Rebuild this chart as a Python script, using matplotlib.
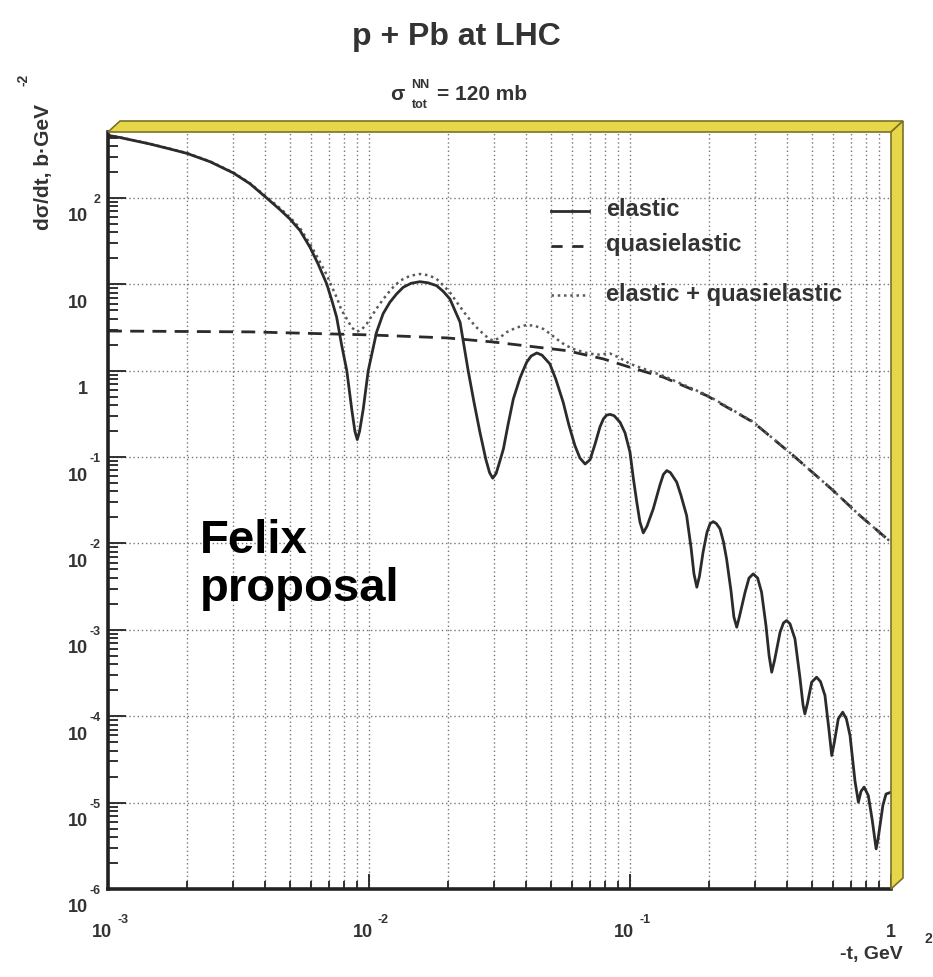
import numpy as np
import matplotlib
matplotlib.use("Agg")
import matplotlib.pyplot as plt
import matplotlib.transforms as mtransforms
from matplotlib.lines import Line2D
from matplotlib.patches import Polygon
from matplotlib.ticker import LogLocator, NullFormatter

plt.rcParams['font.family'] = ['Liberation Sans', 'DejaVu Sans']

# curves as log10(-t [GeV^2]) and log10(dsigma/dt [b/GeV^2])
# elastic
lt_el = [-3.000, -2.954, -2.839, -2.762, -2.698, -2.609, -2.520, -2.456, -2.392, -2.341,
         -2.303, -2.264, -2.226, -2.195, -2.162, -2.142, -2.124, -2.105, -2.085, -2.066,
         -2.054, -2.045, -2.036, -2.022, -2.003, -1.971, -1.946, -1.920, -1.894, -1.869,
         -1.839, -1.805, -1.774, -1.741, -1.716, -1.690, -1.651, -1.620, -1.598, -1.575,
         -1.552, -1.538, -1.526, -1.513, -1.500, -1.485, -1.467, -1.447, -1.421, -1.396,
         -1.379, -1.357, -1.337, -1.307, -1.284, -1.256, -1.234, -1.211, -1.192, -1.172,
         -1.153, -1.134, -1.115, -1.102, -1.090, -1.077, -1.061, -1.038, -1.019, -1.000,
         -0.987, -0.974, -0.962, -0.949, -0.935, -0.911, -0.885, -0.872, -0.859, -0.845,
         -0.821, -0.805, -0.783, -0.766, -0.755, -0.744, -0.734, -0.720, -0.705, -0.693,
         -0.681, -0.669, -0.655, -0.642, -0.630, -0.613, -0.602, -0.591, -0.581, -0.559,
         -0.544, -0.528, -0.511, -0.496, -0.479, -0.467, -0.457, -0.446, -0.425, -0.412,
         -0.400, -0.387, -0.368, -0.349, -0.337, -0.330, -0.320, -0.304, -0.285, -0.270,
         -0.253, -0.238, -0.227, -0.217, -0.202, -0.185, -0.171, -0.157, -0.138, -0.125,
         -0.115, -0.103, -0.087, -0.072, -0.057, -0.050, -0.042, -0.031, -0.019, 0.000]
ls_el = [2.725, 2.700, 2.625, 2.567, 2.517, 2.420, 2.290, 2.165, 2.000, 1.865,
         1.757, 1.622, 1.429, 1.236, 1.005, 0.811, 0.620, 0.300, 0.000, -0.450,
         -0.700, -0.797, -0.700, -0.442, 0.000, 0.446, 0.660, 0.793, 0.890, 0.966,
         1.012, 1.031, 1.018, 0.985, 0.920, 0.831, 0.561, 0.000, -0.360, -0.712,
         -1.030, -1.180, -1.244, -1.190, -1.060, -0.905, -0.620, -0.326, -0.080, 0.098,
         0.170, 0.206, 0.180, 0.079, -0.100, -0.365, -0.630, -0.867, -1.010, -1.080,
         -1.030, -0.850, -0.650, -0.558, -0.515, -0.505, -0.520, -0.597, -0.720, -0.944,
         -1.250, -1.522, -1.750, -1.877, -1.800, -1.600, -1.320, -1.200, -1.156, -1.180,
         -1.290, -1.440, -1.677, -2.050, -2.350, -2.506, -2.380, -2.100, -1.870, -1.770,
         -1.747, -1.770, -1.831, -1.980, -2.178, -2.550, -2.850, -2.969, -2.850, -2.563,
         -2.400, -2.352, -2.400, -2.563, -2.950, -3.300, -3.490, -3.350, -3.027, -2.920,
         -2.892, -2.930, -3.104, -3.550, -3.870, -3.972, -3.850, -3.606, -3.548, -3.600,
         -3.760, -4.150, -4.455, -4.300, -4.030, -3.953, -4.030, -4.223, -4.750, -4.995,
         -4.870, -4.820, -4.918, -5.200, -5.535, -5.430, -5.265, -5.030, -4.900, -4.880]

# quasielastic
lt_qe = [-3.000, -2.456, -2.000, -1.701, -1.525, -1.243, -1.102, -1.000,
         -0.872, -0.706, -0.528, -0.374, -0.221, -0.119, 0.000]
ls_qe = [0.460, 0.450, 0.415, 0.380, 0.333, 0.233, 0.137, 0.040,
         -0.075, -0.288, -0.596, -0.983, -1.388, -1.677, -1.985]

# elastic + quasielastic
lt_sum = [-3.000, -2.954, -2.839, -2.762, -2.698, -2.609, -2.520, -2.456, -2.392, -2.341,
          -2.303, -2.264, -2.226, -2.195, -2.162, -2.142, -2.124, -2.105, -2.085, -2.066,
          -2.047, -2.030, -2.009, -1.971, -1.945, -1.913, -1.881, -1.842, -1.805, -1.771,
          -1.741, -1.716, -1.690, -1.658, -1.626, -1.594, -1.562, -1.540, -1.524, -1.500,
          -1.473, -1.435, -1.396, -1.365, -1.332, -1.307, -1.281, -1.250, -1.217, -1.172,
          -1.128, -1.077, -1.040, -1.000, -0.872, -0.706, -0.528, -0.374, -0.221, -0.119,
          0.000]
ls_sum = [2.727, 2.702, 2.627, 2.570, 2.520, 2.424, 2.295, 2.171, 2.012, 1.882,
          1.777, 1.650, 1.470, 1.300, 1.110, 0.970, 0.850, 0.700, 0.600, 0.500,
          0.453, 0.470, 0.542, 0.720, 0.831, 0.950, 1.043, 1.100, 1.120, 1.105,
          1.063, 0.990, 0.908, 0.770, 0.638, 0.520, 0.426, 0.370, 0.348, 0.380,
          0.446, 0.500, 0.530, 0.520, 0.484, 0.430, 0.368, 0.300, 0.252, 0.210,
          0.185, 0.200, 0.150, 0.080, -0.060, -0.280, -0.592, -0.983, -1.388, -1.677,
          -1.985]

W, H = 933, 978
fig = plt.figure(figsize=(W / 100, H / 100), dpi=100)


def px(x, y):
    # pixel position -> figure fraction
    return x / W, 1 - y / H


ax = fig.add_axes([108 / W, (H - 890) / H, (891 - 108) / W, (890 - 133) / H])
ax.set_xscale('log')
ax.set_yscale('log')
ax.set_xlim(1e-3, 1)
ax.set_ylim(1e-6, 10 ** 2.764)

ink = '#2b2b2b'
dots = '#5a5a5a'
ax.plot(10 ** np.array(lt_qe), 10 ** np.array(ls_qe), color=ink, lw=2.0, ls=(0, (5, 3)))
ax.plot(10 ** np.array(lt_sum), 10 ** np.array(ls_sum), color=dots, lw=1.8, ls=(0, (1, 1.5)))
ax.plot(10 ** np.array(lt_el), 10 ** np.array(ls_el), color=ink, lw=2.0,
        solid_joinstyle='round')

# frame, ticks and grid in ROOT style
ax.xaxis.set_major_locator(LogLocator(base=10, numticks=10))
ax.xaxis.set_minor_locator(LogLocator(base=10, subs=np.arange(2, 10), numticks=20))
ax.yaxis.set_major_locator(LogLocator(base=10, numticks=20))
ax.yaxis.set_minor_locator(LogLocator(base=10, subs=np.arange(2, 10), numticks=30))
ax.xaxis.set_minor_formatter(NullFormatter())
ax.yaxis.set_minor_formatter(NullFormatter())
ax.tick_params(which='both', direction='in', top=False, right=False,
               labelleft=False, labelbottom=False, color='#222222', width=1.3)
ax.tick_params(axis='y', which='major', length=13)
ax.tick_params(axis='y', which='minor', length=7)
ax.tick_params(axis='x', which='major', length=11)
ax.tick_params(axis='x', which='minor', length=6)
ax.grid(True, which='major', axis='both', ls=(0, (1, 2)), color='#777777', lw=1.0)
ax.grid(True, which='minor', axis='x', ls=(0, (1, 2)), color='#777777', lw=1.0)
for side in ('top', 'right'):
    ax.spines[side].set_visible(False)
for side in ('left', 'bottom'):
    ax.spines[side].set_linewidth(2.6)
    ax.spines[side].set_color('#222222')

# yellow 3D border on top and right
l, b, w, h = ax.get_position().bounds
r, t = l + w, b + h
dx, dy = 12 / W, 11 / H
yellow = '#e5d64a'
edge = '#7d7126'
fig.add_artist(Polygon([(l, t), (r, t), (r + dx, t + dy), (l + dx, t + dy)],
                       closed=True, transform=fig.transFigure, fc=yellow, ec=edge, lw=1.2))
fig.add_artist(Polygon([(r, t), (r + dx, t + dy), (r + dx, b + dy), (r, b)],
                       closed=True, transform=fig.transFigure, fc=yellow, ec=edge, lw=1.2))

# tick labels, ROOT puts the exponent high and apart from the base
lab = dict(color='#333333', fontweight='bold')
ytrans = mtransforms.blended_transform_factory(ax.transAxes, ax.transData)
for e in range(-6, 3):
    v = 10.0 ** e
    base = '1' if e == 0 else '10'
    tb = mtransforms.offset_copy(ytrans, fig=fig, x=-20, y=-18, units='dots')
    ax.text(0, v, base, transform=tb, ha='right', va='center', fontsize=13, **lab)
    if e not in (0, 1):
        te = mtransforms.offset_copy(ytrans, fig=fig, x=-7, y=-1, units='dots')
        ax.text(0, v, str(e), transform=te, ha='right', va='center', fontsize=9, **lab)

xtrans = mtransforms.blended_transform_factory(ax.transData, ax.transAxes)
for e in range(-3, 1):
    v = 10.0 ** e
    if e == 0:
        tb = mtransforms.offset_copy(xtrans, fig=fig, x=0, y=-43, units='dots')
        ax.text(v, 0, '1', transform=tb, ha='center', va='center', fontsize=13, **lab)
        continue
    tb = mtransforms.offset_copy(xtrans, fig=fig, x=4, y=-43, units='dots')
    ax.text(v, 0, '10', transform=tb, ha='right', va='center', fontsize=13, **lab)
    te = mtransforms.offset_copy(xtrans, fig=fig, x=9, y=-30, units='dots')
    ax.text(v, 0, str(e), transform=te, ha='left', va='center', fontsize=9, **lab)

# axis titles
fig.text(*px(903, 955), '-t, GeV', ha='right', va='center', fontsize=14, **lab)
fig.text(*px(928, 939), '2', ha='center', va='center', fontsize=10, **lab)
fig.text(*px(43, 230), 'dσ/dt, b·GeV', rotation=90, ha='center', va='bottom',
         fontsize=15, **lab)
fig.text(*px(23, 80), '-2', rotation=90, ha='center', va='center', fontsize=10, **lab)

# titles
fig.text(*px(456, 37), 'p + Pb at LHC', ha='center', va='center', fontsize=23, **lab)
fig.text(*px(397, 94), 'σ', ha='center', va='center', fontsize=15, **lab)
fig.text(*px(420, 85), 'NN', ha='center', va='center', fontsize=9, **lab)
fig.text(*px(420, 105), 'tot', ha='center', va='center', fontsize=9, **lab)
fig.text(*px(437, 95), '= 120 mb', ha='left', va='center', fontsize=15, **lab)

# legend
leg = [('elastic', dict(color=ink, lw=2.0), 212),
       ('quasielastic', dict(color=ink, lw=2.0, ls=(0, (4, 3.5))), 247),
       ('elastic + quasielastic', dict(color=dots, lw=1.8, ls=(0, (1, 1.5))), 296)]
for name, style, yy in leg:
    x0, y0 = px(551, yy)
    x1, _ = px(589, yy)
    fig.add_artist(Line2D([x0, x1], [y0, y0], transform=fig.transFigure, **style))
    fig.text(*px(606, yy - 2), name, ha='left', va='center', fontsize=17, **lab)

fig.text(*px(200, 553), 'Felix', ha='left', va='baseline', fontsize=34,
         fontweight='bold', color='black')
fig.text(*px(200, 601), 'proposal', ha='left', va='baseline', fontsize=34,
         fontweight='bold', color='black')

fig.savefig('out.png', dpi=100, facecolor='white')
